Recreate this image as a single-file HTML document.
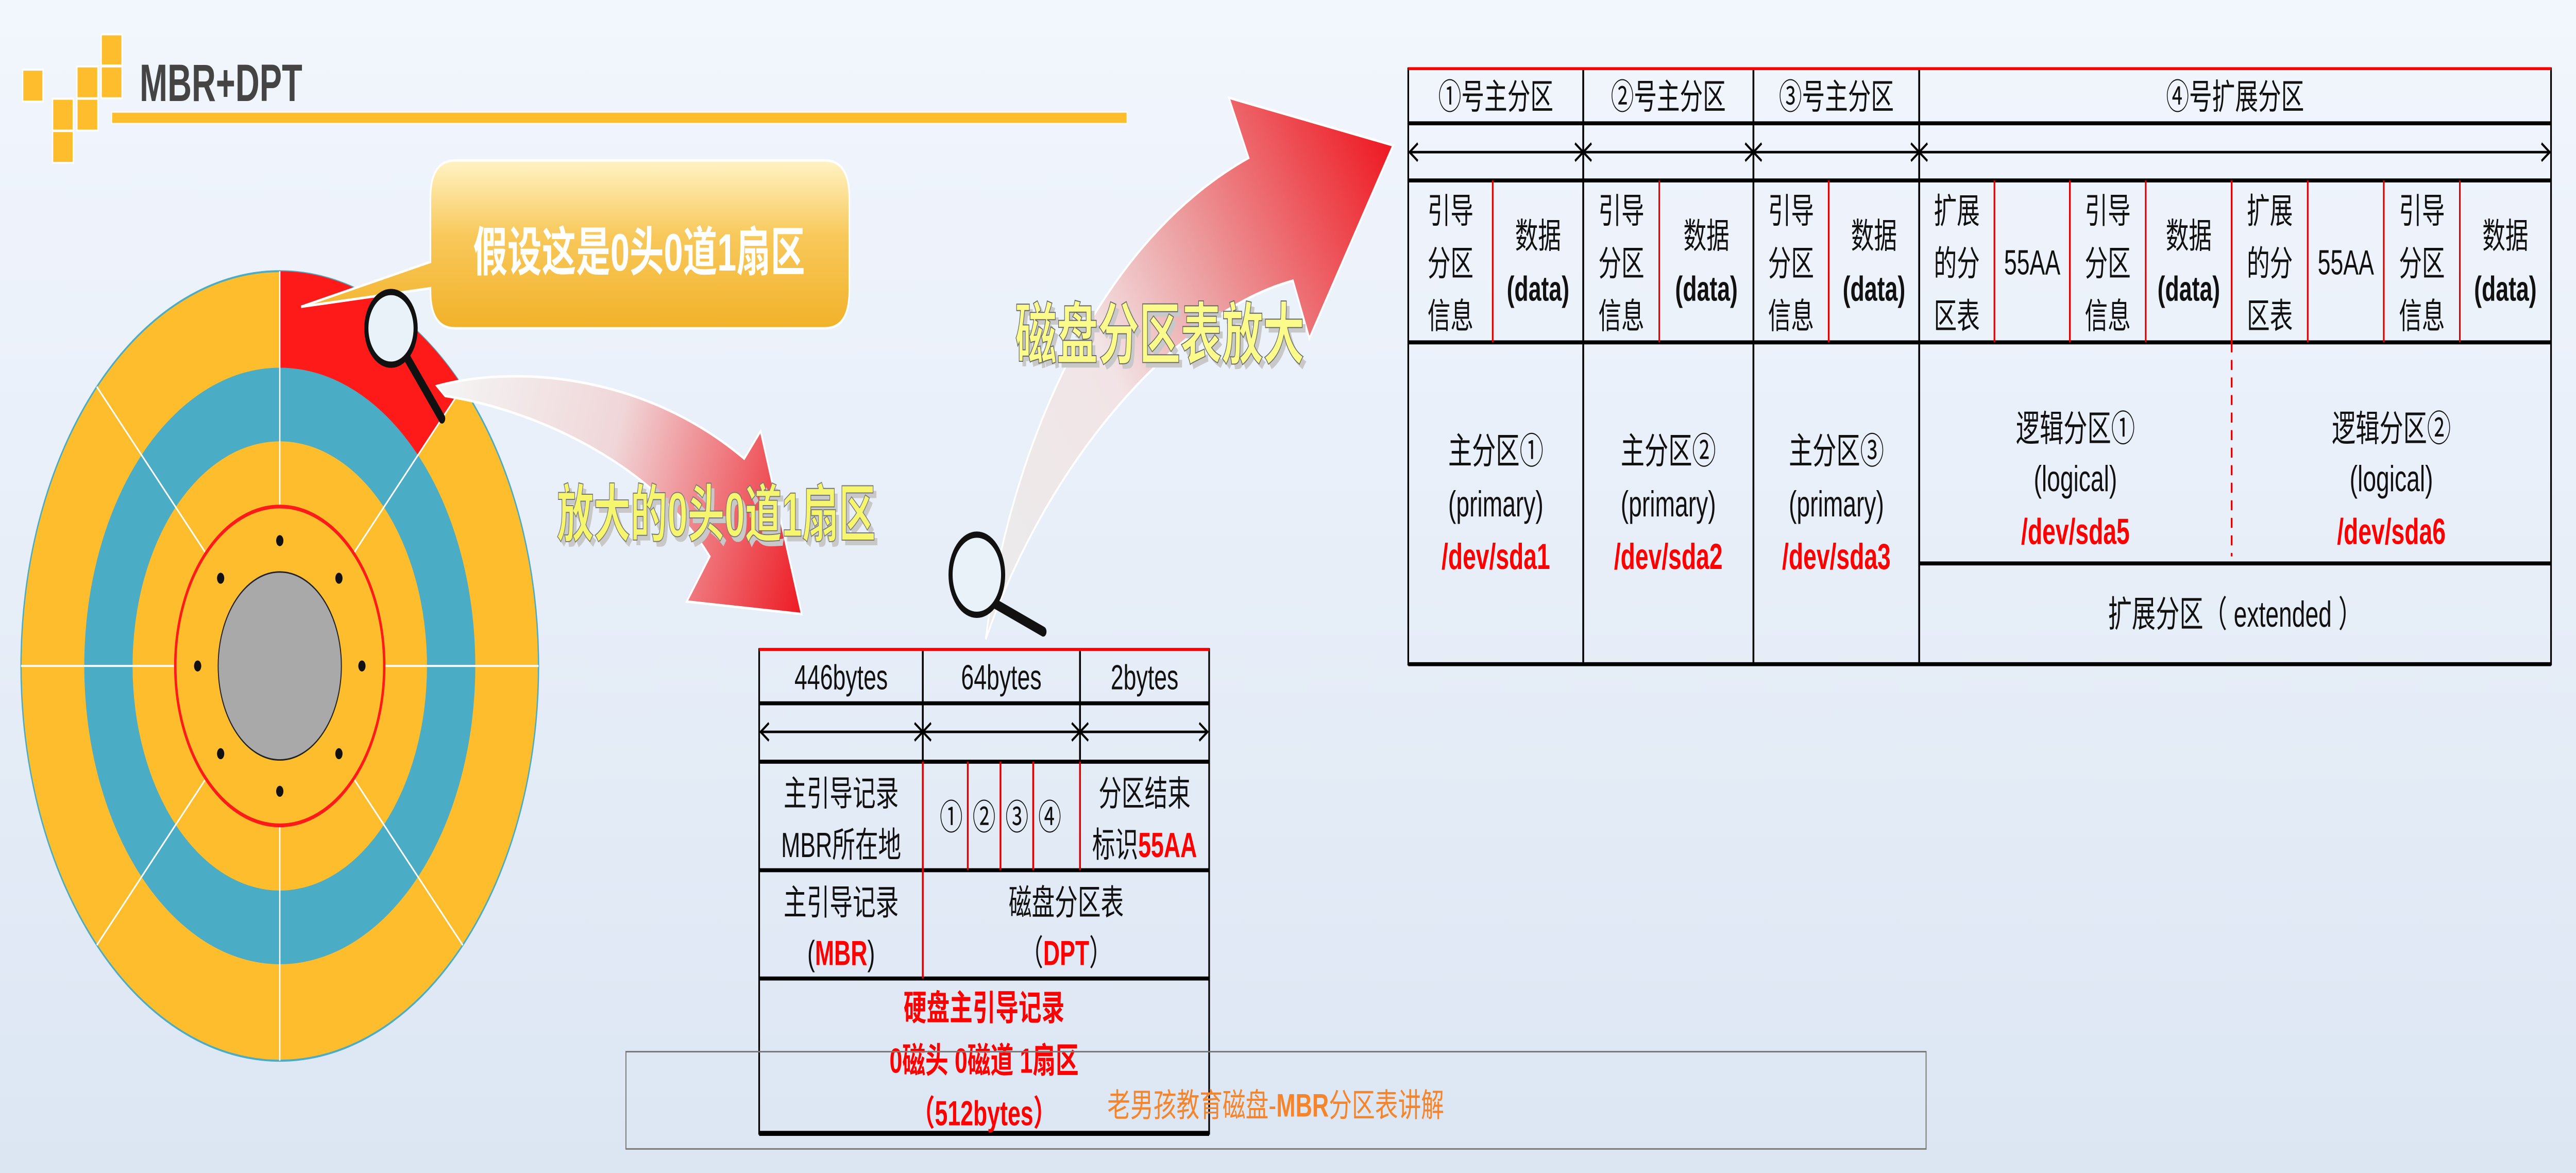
<!DOCTYPE html>
<html><head><meta charset="utf-8"><style>
html,body{margin:0;padding:0;width:100vw;height:100vh;overflow:hidden;background:#e8eef8}
svg{display:block;width:100vw;height:100vh}
text{font-family:"Liberation Sans","Noto Sans CJK SC",sans-serif}
</style></head><body>
<svg viewBox="0 0 1568 468" preserveAspectRatio="none" xmlns="http://www.w3.org/2000/svg">
<defs>
<linearGradient id="bg" x1="0" y1="0" x2="0" y2="1"><stop offset="0" stop-color="#f2f6fd"/><stop offset="1" stop-color="#dce6f3"/></linearGradient>
<linearGradient id="call" x1="0" y1="0" x2="0" y2="1"><stop offset="0" stop-color="#fff3c4"/><stop offset="0.45" stop-color="#f8c85a"/><stop offset="1" stop-color="#f2b22a"/></linearGradient>
<linearGradient id="a1" gradientUnits="userSpaceOnUse" x1="270" y1="155" x2="488" y2="240"><stop offset="0" stop-color="#f4f4f4"/><stop offset="0.45" stop-color="#f0d6d8"/><stop offset="1" stop-color="#ee1c25"/></linearGradient>
<linearGradient id="a2" gradientUnits="userSpaceOnUse" x1="610" y1="230" x2="845" y2="60"><stop offset="0" stop-color="#ebebeb"/><stop offset="0.35" stop-color="#f2e4e6"/><stop offset="0.6" stop-color="#ec9a9c"/><stop offset="1" stop-color="#ee1c25"/></linearGradient>
</defs>
<rect x="0" y="0" width="1568" height="468" fill="url(#bg)"/>

<g fill="#fdbd2c" stroke="#fff" stroke-width="0.8">
<rect x="13.8" y="27.8" width="12.4" height="12.7"/>
<rect x="32" y="39.4" width="12.6" height="12.7"/>
<rect x="32" y="52.3" width="12.6" height="12.7"/>
<rect x="46.8" y="26.5" width="12.8" height="12.7"/>
<rect x="46.8" y="39.4" width="12.8" height="12.7"/>
<rect x="61.6" y="13.7" width="12.7" height="12.4"/>
<rect x="61.6" y="26.5" width="12.7" height="12.7"/>
</g>
<text x="85" y="40.3" font-size="21" font-weight="bold" fill="#444" textLength="99" lengthAdjust="spacingAndGlyphs">MBR+DPT</text>
<rect x="68" y="44.7" width="618" height="4.6" fill="#fdbd2c" stroke="#fff" stroke-width="0.5"/>

<g transform="translate(170.3,265.7)">
<circle r="157.5" fill="#fdbd2c" stroke="#4bacc6" stroke-width="0.8"/>
<circle r="119" fill="#4bacc6"/>
<circle r="89.6" fill="#fdbd2c"/>
<path d="M0,-157.5 A157.5,157.5 0 0 1 111.4,-111.4 L84.1,-84.1 A119,119 0 0 0 0,-119 Z" fill="#ff1a1a"/>
<g stroke="#fff" stroke-width="0.8">
<line x1="0" y1="-63.6" x2="0" y2="-157.5"/><line x1="0" y1="63.6" x2="0" y2="157.5"/>
<line x1="63.6" y1="0" x2="157.5" y2="0"/><line x1="-63.6" y1="0" x2="-157.5" y2="0"/>
<line x1="45" y1="-45" x2="111.4" y2="-111.4"/><line x1="45" y1="45" x2="111.4" y2="111.4"/>
<line x1="-45" y1="45" x2="-111.4" y2="111.4"/><line x1="-45" y1="-45" x2="-111.4" y2="-111.4"/>
</g>
<circle r="63.6" fill="#fdbd2c" stroke="#ff1a1a" stroke-width="1.5"/>
<circle r="37.5" fill="#a9a9a9" stroke="#222" stroke-width="0.6"/>
<g fill="#111">
<circle cx="0" cy="-50" r="2.2"/><circle cx="0" cy="50" r="2.2"/><circle cx="50" cy="0" r="2.2"/><circle cx="-50" cy="0" r="2.2"/>
<circle cx="36" cy="-35" r="2.2"/><circle cx="36" cy="35" r="2.2"/><circle cx="-36" cy="35" r="2.2"/><circle cx="-36" cy="-35" r="2.2"/>
</g>
</g>

<path d="M277,64 H502 Q517,64 517,79 V116 Q517,131 502,131 H277 Q262,131 262,116 V115 L183.3,122.4 L262,104.5 V79 Q262,64 277,64 Z" fill="url(#call)" stroke="#fff" stroke-width="1"/>
<text x="288" y="108" font-size="21" font-weight="bold" fill="#fff" textLength="202" lengthAdjust="spacingAndGlyphs">假设这是0头0道1扇区</text>

<path d="M266,154 C310,146 390,148 453,183 L463,172 L488,245 L418,240 L432,222 C400,187 330,164 271,158 Z" fill="url(#a1)" stroke="#fff" stroke-width="1"/>
<line x1="248" y1="143" x2="269" y2="167" stroke="#111" stroke-width="4" stroke-linecap="round"/>
<ellipse cx="238" cy="131" rx="15" ry="14.5" fill="#e8f2f8" stroke="#111" stroke-width="2.5"/>
<text x="339" y="214" font-size="25" font-weight="bold" fill="#c8c8c8" textLength="194" lengthAdjust="spacingAndGlyphs" transform="translate(2,2)">放大的0头0道1扇区</text>
<text x="339" y="214" font-size="25" font-weight="bold" fill="#f6f66e" stroke="#777" stroke-width="0.4" textLength="194" lengthAdjust="spacingAndGlyphs">放大的0头0道1扇区</text>

<path d="M600,255 C612,190 660,100 760,63 L748,39 L848,58 L797,135 L787,112 C720,124 640,180 600,255 Z" fill="url(#a2)" stroke="#fff" stroke-width="1"/>
<line x1="606" y1="241" x2="635" y2="252" stroke="#111" stroke-width="4" stroke-linecap="round"/>
<circle cx="594.6" cy="229.3" r="16" fill="#e8f2f8" stroke="#111" stroke-width="2.5"/>
<text x="618" y="143" font-size="27" font-weight="bold" fill="#c8c8c8" textLength="176" lengthAdjust="spacingAndGlyphs" transform="translate(2,2)">磁盘分区表放大</text>
<text x="618" y="143" font-size="27" font-weight="bold" fill="#fbfb8c" stroke="#666" stroke-width="0.4" textLength="176" lengthAdjust="spacingAndGlyphs">磁盘分区表放大</text>

<g stroke="#000" fill="none">
<rect x="462.1" y="259.1" width="273.9" height="193.1" stroke-width="1"/>
<line x1="462.1" y1="280.6" x2="736" y2="280.6" stroke-width="1.6"/>
<line x1="462.1" y1="303.9" x2="736" y2="303.9" stroke-width="1.6"/>
<line x1="462.1" y1="347.2" x2="736" y2="347.2" stroke-width="1.6"/>
<line x1="462.1" y1="390.4" x2="736" y2="390.4" stroke-width="1.6"/>
<line x1="462.1" y1="452.2" x2="736" y2="452.2" stroke-width="2"/>
<line x1="561.7" y1="259.1" x2="561.7" y2="303.9" stroke-width="1.1"/>
<line x1="657.4" y1="259.1" x2="657.4" y2="303.9" stroke-width="1.1"/>
</g>
<line x1="462.1" y1="259.1" x2="736" y2="259.1" stroke="#ff0000" stroke-width="1.2"/>
<g stroke="#e00000" stroke-width="1.1">
<line x1="561.7" y1="303.9" x2="561.7" y2="390.4"/>
<line x1="657.4" y1="303.9" x2="657.4" y2="347.2"/>
<line x1="589.1" y1="303.9" x2="589.1" y2="347.2"/>
<line x1="609" y1="303.9" x2="609" y2="347.2"/>
<line x1="628.9" y1="303.9" x2="628.9" y2="347.2"/>
</g>
<g stroke="#000" stroke-width="1" fill="none">
<line x1="463" y1="292" x2="735" y2="292"/>
<path d="M468,288.5 L463,292 L468,295.5"/>
<path d="M556.7,288.5 L561.7,292 L556.7,295.5 M566.7,288.5 L561.7,292 L566.7,295.5"/>
<path d="M652.4,288.5 L657.4,292 L652.4,295.5 M662.4,288.5 L657.4,292 L662.4,295.5"/>
<path d="M730,288.5 L735,292 L730,295.5"/>
</g>
<g font-size="14" fill="#111" text-anchor="middle">
<text x="512" y="275">446bytes</text>
<text x="609.5" y="275">64bytes</text>
<text x="696.7" y="275">2bytes</text>
<text x="512" y="321.5">主引导记录</text>
<text x="512" y="342">MBR所在地</text>
<text x="579" y="331">①</text><text x="599" y="331">②</text><text x="619" y="331">③</text><text x="639" y="331">④</text>
<text x="696.7" y="321.5">分区结束</text>
<text x="696.7" y="342">标识<tspan fill="#ff0000" font-weight="bold">55AA</tspan></text>
<text x="512" y="365">主引导记录</text>
<text x="512" y="385">(<tspan fill="#ff0000" font-weight="bold">MBR</tspan>)</text>
<text x="649" y="365">磁盘分区表</text>
<text x="649" y="385">（<tspan fill="#ff0000" font-weight="bold">DPT</tspan>）</text>
</g>
<g font-size="14" font-weight="bold" fill="#ff0000" text-anchor="middle">
<text x="599" y="407">硬盘主引导记录</text>
<text x="599" y="428">0磁头 0磁道 1扇区</text>
<text x="599" y="449">（512bytes）</text>
</g>

<rect x="381" y="419.6" width="791.4" height="38.8" fill="none" stroke="#777" stroke-width="0.6"/>
<text x="674" y="445.5" font-size="13" fill="#f5842a" textLength="205" lengthAdjust="spacingAndGlyphs">老男孩教育磁盘-<tspan font-weight="bold">MBR</tspan>分区表讲解</text>

<g stroke="#000" fill="none">
<rect x="857.2" y="27.4" width="695.6" height="237.6" stroke-width="1"/>
<line x1="857.2" y1="49.2" x2="1552.8" y2="49.2" stroke-width="1.6"/>
<line x1="857.2" y1="72" x2="1552.8" y2="72" stroke-width="1.6"/>
<line x1="857.2" y1="136.6" x2="1552.8" y2="136.6" stroke-width="1.6"/>
<line x1="1168.2" y1="224.8" x2="1552.8" y2="224.8" stroke-width="1.6"/>
<line x1="857.2" y1="265" x2="1552.8" y2="265" stroke-width="1.6"/>
<line x1="963.7" y1="27.4" x2="963.7" y2="265" stroke-width="1.1"/>
<line x1="1067.3" y1="27.4" x2="1067.3" y2="265" stroke-width="1.1"/>
<line x1="1168.2" y1="27.4" x2="1168.2" y2="265" stroke-width="1.1"/>
</g>
<line x1="857.2" y1="27.4" x2="1552.8" y2="27.4" stroke="#ff0000" stroke-width="1.2"/>
<g stroke="#e00000" stroke-width="1">
<line x1="908.6" y1="72" x2="908.6" y2="136.6"/>
<line x1="1010" y1="72" x2="1010" y2="136.6"/>
<line x1="1113.1" y1="72" x2="1113.1" y2="136.6"/>
<line x1="1214" y1="72" x2="1214" y2="136.6"/>
<line x1="1259.9" y1="72" x2="1259.9" y2="136.6"/>
<line x1="1306.1" y1="72" x2="1306.1" y2="136.6"/>
<line x1="1358.4" y1="72" x2="1358.4" y2="136.6"/>
<line x1="1404.7" y1="72" x2="1404.7" y2="136.6"/>
<line x1="1451" y1="72" x2="1451" y2="136.6"/>
<line x1="1497.3" y1="72" x2="1497.3" y2="136.6"/>
<line x1="1358.4" y1="136.6" x2="1358.4" y2="222" stroke-dasharray="4,3"/>
</g>
<g stroke="#000" stroke-width="1" fill="none">
<line x1="858" y1="60.7" x2="1552" y2="60.7"/>
<path d="M863,57.2 L858,60.7 L863,64.2"/>
<path d="M958.7,57.2 L963.7,60.7 L958.7,64.2 M968.7,57.2 L963.7,60.7 L968.7,64.2"/>
<path d="M1062.3,57.2 L1067.3,60.7 L1062.3,64.2 M1072.3,57.2 L1067.3,60.7 L1072.3,64.2"/>
<path d="M1163.2,57.2 L1168.2,60.7 L1163.2,64.2 M1173.2,57.2 L1168.2,60.7 L1173.2,64.2"/>
<path d="M1547,57.2 L1552,60.7 L1547,64.2"/>
</g>
<g font-size="14" fill="#111" text-anchor="middle">
<text x="910.5" y="43.5">①号主分区</text>
<text x="1015.5" y="43.5">②号主分区</text>
<text x="1117.8" y="43.5">③号主分区</text>
<text x="1360.5" y="43.5">④号扩展分区</text>
</g>
<g font-size="14" fill="#111" text-anchor="middle">
<text x="882.9" y="89">引导</text><text x="882.9" y="110">分区</text><text x="882.9" y="131">信息</text>
<text x="936.2" y="99">数据</text><text x="936.2" y="120" font-weight="bold">(data)</text>
<text x="986.9" y="89">引导</text><text x="986.9" y="110">分区</text><text x="986.9" y="131">信息</text>
<text x="1038.7" y="99">数据</text><text x="1038.7" y="120" font-weight="bold">(data)</text>
<text x="1090.2" y="89">引导</text><text x="1090.2" y="110">分区</text><text x="1090.2" y="131">信息</text>
<text x="1140.7" y="99">数据</text><text x="1140.7" y="120" font-weight="bold">(data)</text>
<text x="1191.1" y="89">扩展</text><text x="1191.1" y="110">的分</text><text x="1191.1" y="131">区表</text>
<text x="1237" y="109.5">55AA</text>
<text x="1283" y="89">引导</text><text x="1283" y="110">分区</text><text x="1283" y="131">信息</text>
<text x="1332.3" y="99">数据</text><text x="1332.3" y="120" font-weight="bold">(data)</text>
<text x="1381.6" y="89">扩展</text><text x="1381.6" y="110">的分</text><text x="1381.6" y="131">区表</text>
<text x="1427.9" y="109.5">55AA</text>
<text x="1474.2" y="89">引导</text><text x="1474.2" y="110">分区</text><text x="1474.2" y="131">信息</text>
<text x="1525" y="99">数据</text><text x="1525" y="120" font-weight="bold">(data)</text>
</g>
<g font-size="14.5" fill="#111" text-anchor="middle">
<text x="910.5" y="185">主分区①</text><text x="910.5" y="206">(primary)</text>
<text x="1015.5" y="185">主分区②</text><text x="1015.5" y="206">(primary)</text>
<text x="1117.8" y="185">主分区③</text><text x="1117.8" y="206">(primary)</text>
<text x="1263.3" y="176">逻辑分区①</text><text x="1263.3" y="196">(logical)</text>
<text x="1455.6" y="176">逻辑分区②</text><text x="1455.6" y="196">(logical)</text>
<text x="1360.5" y="250">扩展分区（ extended ）</text>
</g>
<g font-size="14.5" font-weight="bold" fill="#ff0000" text-anchor="middle">
<text x="910.5" y="227">/dev/sda1</text>
<text x="1015.5" y="227">/dev/sda2</text>
<text x="1117.8" y="227">/dev/sda3</text>
<text x="1263.3" y="217">/dev/sda5</text>
<text x="1455.6" y="217">/dev/sda6</text>
</g>
</svg>
</body></html>
